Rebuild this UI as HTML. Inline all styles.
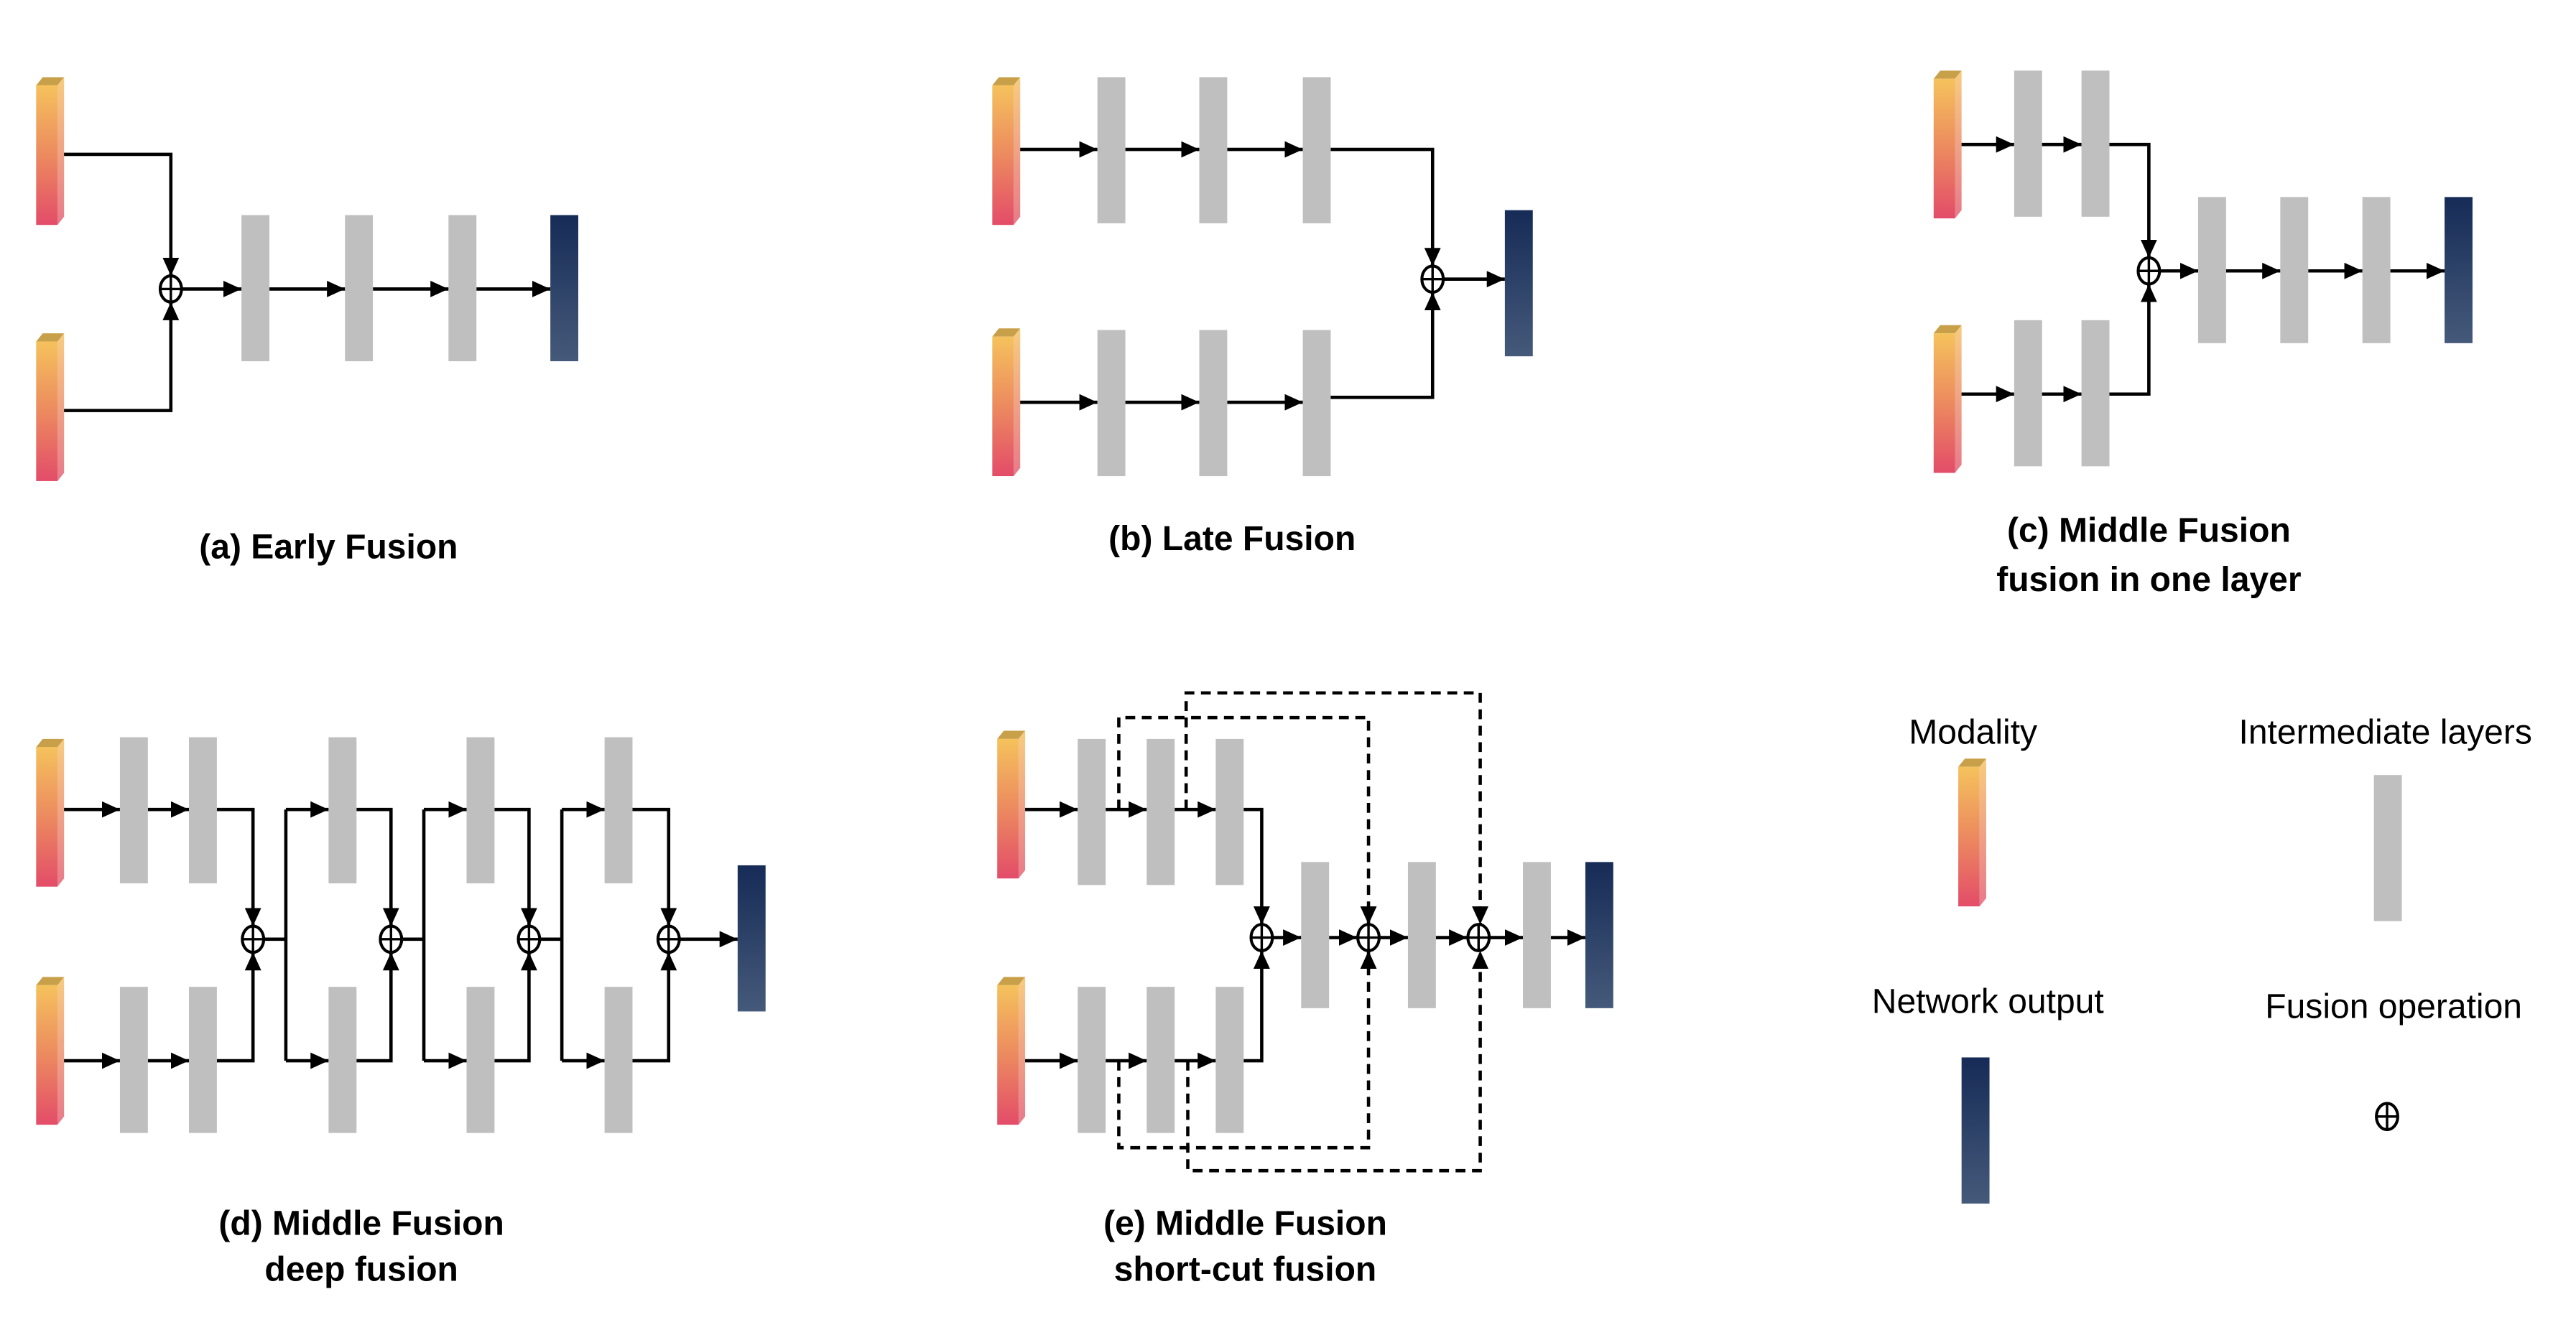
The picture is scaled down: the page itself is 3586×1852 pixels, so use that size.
<!DOCTYPE html>
<html><head><meta charset="utf-8"><style>html,body{margin:0;padding:0;background:#fff}svg{display:block}</style></head>
<body>
<svg width="3586" height="1852" viewBox="0 0 1568 810" preserveAspectRatio="none" xmlns="http://www.w3.org/2000/svg">
<defs>
<linearGradient id="gf" x1="0" y1="0" x2="0" y2="1"><stop offset="0" stop-color="#f5c25c"/><stop offset="0.5" stop-color="#ec8a5f"/><stop offset="1" stop-color="#e34c69"/></linearGradient>
<linearGradient id="gs" x1="0" y1="0" x2="0" y2="1"><stop offset="0" stop-color="#f7cc80"/><stop offset="1" stop-color="#e87a8a"/></linearGradient>
<linearGradient id="gn" x1="0" y1="0" x2="0" y2="1"><stop offset="0" stop-color="#162b56"/><stop offset="1" stop-color="#455a7a"/></linearGradient>
<g id="mod"><polygon points="0,5 4,0 17,0 13,5" fill="#c9a04a"/><rect x="0" y="5" width="13" height="85" fill="url(#gf)"/><polygon points="13,5 17,0 17,85 13,90" fill="url(#gs)"/></g>
<rect id="gr" width="17" height="89" fill="#bfbfbf"/>
<rect id="out" width="17" height="89" fill="url(#gn)"/>
<ellipse id="fu" rx="6.5" ry="8" fill="#fff" stroke="#000" stroke-width="1.8"/>
<marker id="ar" markerUnits="userSpaceOnUse" markerWidth="12" markerHeight="12" refX="11" refY="5" orient="auto"><path d="M0,0 L11,5 L0,10 Z" fill="#000"/></marker>
</defs>
<g fill="none" stroke="#000" stroke-width="2" marker-end="url(#ar)">
<!-- a -->
<path d="M38 94 H104 V168"/><path d="M38 250 H104 V184"/>
<path d="M111 176 H147"/><path d="M164 176 H210"/><path d="M227 176 H273"/><path d="M290 176 H335"/>
<!-- b -->
<path d="M620 91 H668"/><path d="M685 91 H730"/><path d="M747 91 H793"/>
<path d="M620 245 H668"/><path d="M685 245 H730"/><path d="M747 245 H793"/>
<path d="M810 91 H872 V162"/><path d="M810 242 H872 V178"/><path d="M879 170 H916"/>
<!-- c -->
<path d="M1193 88 H1226"/><path d="M1242 88 H1267"/><path d="M1193 240 H1226"/><path d="M1242 240 H1267"/>
<path d="M1283 88 H1308 V157"/><path d="M1283 240 H1308 V173"/>
<path d="M1315 165 H1338"/><path d="M1355 165 H1388"/><path d="M1405 165 H1438"/><path d="M1455 165 H1488"/>
<!-- d -->
<path d="M38 493 H73"/><path d="M90 493 H115"/><path d="M38 646 H73"/><path d="M90 646 H115"/>
<path d="M132 493 H154 V564"/><path d="M132 646 H154 V580"/>
<path d="M174 493 H200"/><path d="M174 646 H200"/><path d="M217 493 H238 V564"/><path d="M217 646 H238 V580"/>
<path d="M258 493 H284"/><path d="M258 646 H284"/><path d="M301 493 H322 V564"/><path d="M301 646 H322 V580"/>
<path d="M342 493 H368"/><path d="M342 646 H368"/><path d="M385 493 H407 V564"/><path d="M385 646 H407 V580"/>
<path d="M414 572 H449"/>
<!-- e -->
<path d="M623 493 H656"/><path d="M673 493 H698"/><path d="M715 493 H740"/>
<path d="M623 646 H656"/><path d="M673 646 H698"/><path d="M715 646 H740"/>
<path d="M757 493 H768 V563"/><path d="M757 646 H768 V579"/>
<path d="M775 571 H792"/><path d="M809 571 H826"/><path d="M840 571 H857"/><path d="M874 571 H893"/><path d="M907 571 H927"/><path d="M944 571 H965"/>
</g>
<g fill="none" stroke="#000" stroke-width="2">
<path d="M161 572 H174 M174 493 V646 M245 572 H258 M258 493 V646 M329 572 H342 M342 493 V646"/>
</g>
<g fill="none" stroke="#000" stroke-width="2" stroke-dasharray="6 4" marker-end="url(#ar)">
<path d="M681 493 V437 H833 V563"/><path d="M722 493 V422 H901 V563"/>
<path d="M681 646 V699 H833 V579"/><path d="M723 646 V713 H901 V579"/>
</g>
<!-- a shapes -->
<use href="#mod" x="22" y="47"/><use href="#mod" x="22" y="203"/>
<use href="#gr" x="147" y="131"/><use href="#gr" x="210" y="131"/><use href="#gr" x="273" y="131"/><use href="#out" x="335" y="131"/>
<!-- b -->
<use href="#mod" x="604" y="47"/><use href="#mod" x="604" y="200"/>
<use href="#gr" x="668" y="47"/><use href="#gr" x="730" y="47"/><use href="#gr" x="793" y="47"/>
<use href="#gr" x="668" y="201"/><use href="#gr" x="730" y="201"/><use href="#gr" x="793" y="201"/>
<use href="#out" x="916" y="128"/>
<!-- c -->
<use href="#mod" x="1177" y="43"/><use href="#mod" x="1177" y="198"/>
<use href="#gr" x="1226" y="43"/><use href="#gr" x="1267" y="43"/><use href="#gr" x="1226" y="195"/><use href="#gr" x="1267" y="195"/>
<use href="#gr" x="1338" y="120"/><use href="#gr" x="1388" y="120"/><use href="#gr" x="1438" y="120"/><use href="#out" x="1488" y="120"/>
<!-- d -->
<use href="#mod" x="22" y="450"/><use href="#mod" x="22" y="595"/>
<use href="#gr" x="73" y="449"/><use href="#gr" x="115" y="449"/><use href="#gr" x="73" y="601"/><use href="#gr" x="115" y="601"/>
<use href="#gr" x="200" y="449"/><use href="#gr" x="200" y="601"/><use href="#gr" x="284" y="449"/><use href="#gr" x="284" y="601"/><use href="#gr" x="368" y="449"/><use href="#gr" x="368" y="601"/>
<use href="#out" x="449" y="527"/>
<!-- e -->
<use href="#mod" x="607" y="445"/><use href="#mod" x="607" y="595"/>
<use href="#gr" x="656" y="450"/><use href="#gr" x="698" y="450"/><use href="#gr" x="740" y="450"/>
<use href="#gr" x="656" y="601"/><use href="#gr" x="698" y="601"/><use href="#gr" x="740" y="601"/>
<use href="#gr" x="792" y="525"/><use href="#gr" x="857" y="525"/><use href="#gr" x="927" y="525"/><use href="#out" x="965" y="525"/>
<!-- legend -->
<use href="#mod" x="1192" y="462"/><use href="#gr" x="1445" y="472"/><use href="#out" x="1194" y="644"/>
<!-- fusion circles -->
<g stroke="#000" stroke-width="1.5">
<use href="#fu" x="104" y="176"/><path d="M97.5 176 H110.5 M104 168 V184"/>
<use href="#fu" x="872" y="170"/><path d="M865.5 170 H878.5 M872 162 V178"/>
<use href="#fu" x="1308" y="165"/><path d="M1301.5 165 H1314.5 M1308 157 V173"/>
<use href="#fu" x="154" y="572"/><path d="M147.5 572 H160.5 M154 564 V580"/>
<use href="#fu" x="238" y="572"/><path d="M231.5 572 H244.5 M238 564 V580"/>
<use href="#fu" x="322" y="572"/><path d="M315.5 572 H328.5 M322 564 V580"/>
<use href="#fu" x="407" y="572"/><path d="M400.5 572 H413.5 M407 564 V580"/>
<use href="#fu" x="768" y="571"/><path d="M761.5 571 H774.5 M768 563 V579"/>
<use href="#fu" x="833" y="571"/><path d="M826.5 571 H839.5 M833 563 V579"/>
<use href="#fu" x="900" y="571"/><path d="M893.5 571 H906.5 M900 563 V579"/>
<use href="#fu" x="1453" y="680"/><path d="M1446.5 680 H1459.5 M1453 672 V688"/>
</g>
<g font-family="Liberation Sans, Arial, sans-serif" font-weight="bold" font-size="21" text-anchor="middle" fill="#000">
<text x="200" y="340">(a) Early Fusion</text>
<text x="750" y="335">(b) Late Fusion</text>
<text x="1308" y="330">(c) Middle Fusion</text>
<text x="1308" y="360">fusion in one layer</text>
<text x="220" y="752">(d) Middle Fusion</text>
<text x="220" y="780">deep fusion</text>
<text x="758" y="752">(e) Middle Fusion</text>
<text x="758" y="780">short-cut fusion</text>
</g>
<g font-family="Liberation Sans, Arial, sans-serif" font-size="21" text-anchor="middle" fill="#000">
<text x="1201" y="453">Modality</text>
<text x="1452" y="453">Intermediate layers</text>
<text x="1210" y="617">Network output</text>
<text x="1457" y="620">Fusion operation</text>
</g>
</svg>
</body></html>
